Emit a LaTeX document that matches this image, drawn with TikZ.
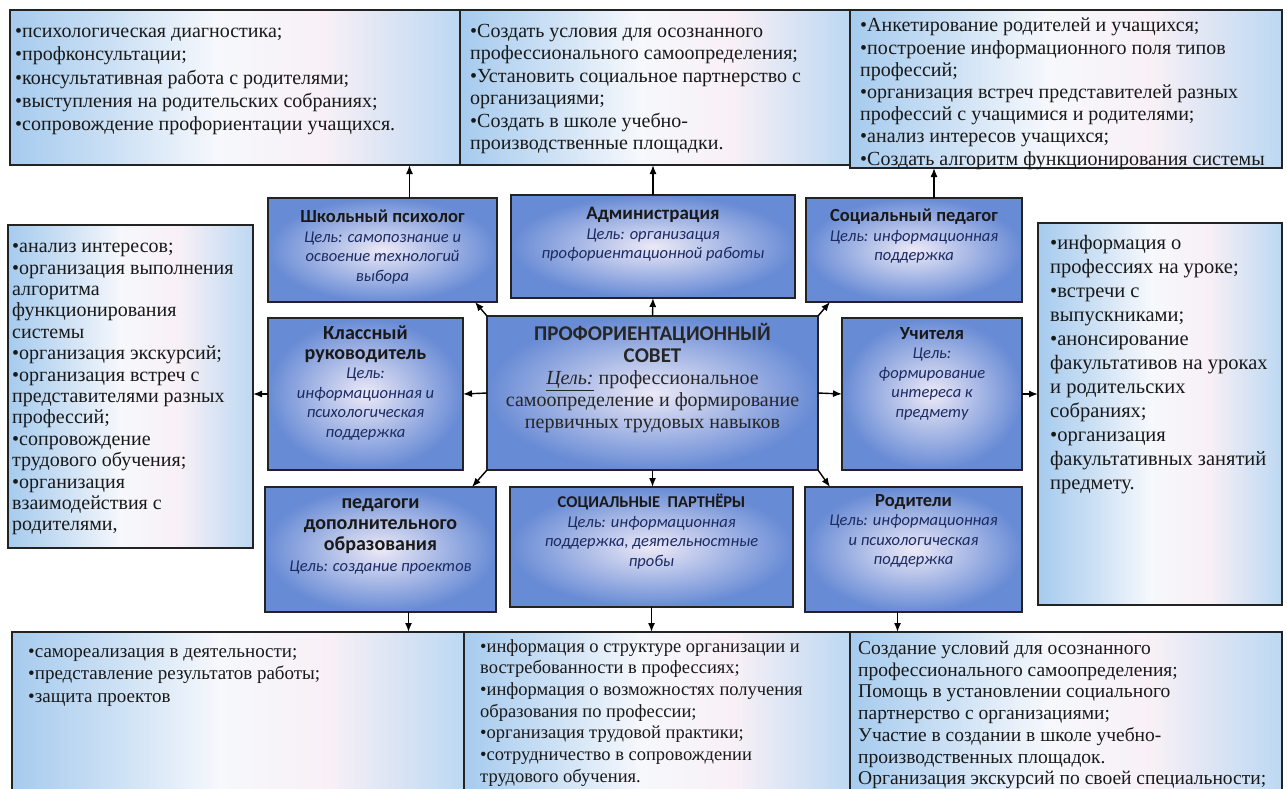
\documentclass[tikz,border=0pt]{standalone}
\usepackage{fontspec}
\setmainfont{Liberation Serif}
\newfontfamily\timesru{Liberation Serif}
\newfontfamily\calibri{Carlito}
\usetikzlibrary{arrows, arrows.meta, positioning}

\definecolor{roleblue}{RGB}{104,139,213}
\definecolor{rolelight}{RGB}{236,233,247}
\definecolor{listblue}{RGB}{166,203,238}
\definecolor{listwhite}{RGB}{246,248,252}
\definecolor{listpink}{RGB}{248,240,246}
\definecolor{goalblue}{RGB}{28,42,98}
\definecolor{edge}{RGB}{35,35,35}

\pgfdeclarehorizontalshading{listshade}{100bp}{color(0bp)=(listblue); color(25bp)=(listblue); color(36bp)=(listblue!55!listwhite); color(48bp)=(listwhite); color(60bp)=(listpink); color(75bp)=(listblue!75!white); color(100bp)=(listblue!75!white)}

\newcommand{\titlef}{\fontsize{18.5}{21}\selectfont\calibri\bfseries\upshape\color{black!90}}

\begin{document}
\begin{tikzpicture}[x=1pt, y=-1pt,
    listbox/.style={rectangle, draw=edge, line width=1.4pt, anchor=north west, inner sep=0pt, outer sep=0pt, shading=listshade},
    listtext/.style={anchor=north west, align=left, inner sep=0pt, text=black!90, font=\fontsize{20}{22.5}\selectfont\timesru},
    rolebox/.style={rectangle, draw=edge, line width=1.4pt, anchor=north west, inner sep=0pt, outer sep=0pt, inner color=rolelight, outer color=roleblue},
    roletext/.style={anchor=north, align=center, inner sep=0pt, text=goalblue, font=\fontsize{16.5}{19.5}\selectfont\calibri\itshape},
    arr/.style={-{Latex[length=9pt,width=7pt]}, line width=1.4pt}
]
\useasboundingbox (0,0) rectangle (1287,789);
\clip (0,0) rectangle (1287,789);
\fill[white] (0,0) rectangle (1287,789);

% Top row: results
\node[listbox, minimum width=450, minimum height=155] (tlbox) at (10,10) {};
\node[listtext, below right=18pt and 5pt of tlbox.north west, font=\fontsize{20}{23.2}\selectfont\timesru] (tltext) {%
•психологическая диагностика;\\
•профконсультации;\\
•консультативная работа с родителями;\\
•выступления на родительских собраниях;\\
•сопровождение профориентации учащихся.};
\node[listbox, minimum width=390, minimum height=155] (tmbox) at (460,10) {};
\node[listtext, below right=14pt and 10pt of tmbox.north west] (tmtext) {%
•Создать условия для осознанного\\
профессионального самоопределения;\\
•Установить социальное партнерство с\\
организациями;\\
•Создать в школе учебно-\\
производственные площадки.};
\node[listbox, minimum width=432, minimum height=158] (trbox) at (850,10) {};
\node[listtext, below right=8pt and 10pt of trbox.north west, font=\fontsize{20}{22.2}\selectfont\timesru] (trtext) {%
•Анкетирование родителей и учащихся;\\
•построение информационного поля типов\\
профессий;\\
•организация встреч представителей разных\\
профессий с учащимися и родителями;\\
•анализ интересов учащихся;\\
•Создать алгоритм функционирования системы};

% Second row: participants
\node[rolebox, minimum width=229, minimum height=104] (psych) at (268,198) {};
\node[roletext, below=12pt of psych.north] (psychtext) {{\titlef Школьный психолог}\\
Цель: самопознание и\\освоение технологий\\выбора};
\node[rolebox, minimum width=284, minimum height=103] (admin) at (511,195) {};
\node[roletext, below=12pt of admin.north] (admintext) {{\titlef\fontsize{19}{22}\selectfont Администрация}\\
Цель: организация\\профориентационной работы};
\node[rolebox, minimum width=216, minimum height=104] (social) at (806,198) {};
\node[roletext, below=11pt of social.north] (socialtext) {{\titlef Социальный педагог}\\
Цель: информационная\\поддержка};

% Side lists
\node[listbox, minimum width=245, minimum height=323] (leftlist) at (8,225) {};
\node[listtext, below right=18pt and 4pt of leftlist.north west, font=\fontsize{20}{21.4}\selectfont\timesru] (lefttext) {%
•анализ интересов;\\
•организация выполнения\\
алгоритма\\
функционирования\\
системы\\
•организация экскурсий;\\
•организация встреч с\\
представителями разных\\
профессий;\\
•сопровождение\\
трудового обучения;\\
•организация\\
взаимодействия с\\
родителями,};
\node[listbox, minimum width=244, minimum height=382] (rightlist) at (1038,223) {};
\node[listtext, below right=12pt and 12pt of rightlist.north west, font=\fontsize{20.5}{24}\selectfont\timesru] (righttext) {%
•информация о\\
профессиях на уроке;\\
•встречи с\\
выпускниками;\\
•анонсирование\\
факультативов на уроках\\
и родительских\\
собраниях;\\
•организация\\
факультативных занятий\\
предмету.};

% Middle row
\node[rolebox, minimum width=195, minimum height=152] (klass) at (268,318) {};
\node[roletext, below=8pt of klass.north] (klasstext) {{\titlef\fontsize{20}{22}\selectfont Классный}\\
{\titlef\fontsize{20}{22}\selectfont руководитель}\\Цель:\\информационная и\\психологическая\\поддержка};
\node[rolebox, minimum width=331, minimum height=154] (central) at (487,316) {};
\node[roletext, below=7pt of central.north, text=black!85, font=\fontsize{20}{22}\selectfont\timesru] (centraltext) {%
{\fontsize{21}{23}\selectfont\calibri\bfseries ПРОФОРИЕНТАЦИОННЫЙ}\\
{\fontsize{21}{23}\selectfont\calibri\bfseries СОВЕТ}\\
\underline{\textit{Цель:}} профессиональное\\
самоопределение и формирование\\
первичных трудовых навыков};
\node[rolebox, minimum width=180, minimum height=152] (uchit) at (842,318) {};
\node[roletext, below=9pt of uchit.north] (uchittext) {{\titlef Учителя}\\
Цель:\\формирование\\интереса к\\предмету};

% Third row
\node[rolebox, minimum width=231, minimum height=125] (pedag) at (265,487) {};
\node[roletext, below=11pt of pedag.north, font=\fontsize{16.5}{21}\selectfont\calibri\itshape] (pedagtext) {{\titlef\fontsize{20}{22}\selectfont педагоги}\\
{\titlef\fontsize{20}{22}\selectfont дополнительного}\\
{\titlef\fontsize{20}{22}\selectfont образования}\\Цель: создание проектов};
\node[rolebox, minimum width=283, minimum height=120] (partners) at (510,487) {};
\node[roletext, below=7pt of partners.north] (partnerstext) {{\titlef\fontsize{16.5}{20}\selectfont СОЦИАЛЬНЫЕ\ \ ПАРТНЁРЫ}\\
Цель: информационная\\поддержка, деятельностные\\пробы};
\node[rolebox, minimum width=217, minimum height=125] (parents) at (805,487) {};
\node[roletext, below=7pt of parents.north] (parentstext) {{\titlef Родители}\\
Цель: информационная\\и психологическая\\поддержка};

% Bottom row: results
\node[listbox, minimum width=452, minimum height=175] (blbox) at (12,632) {};
\node[listtext, below right=16pt and 16pt of blbox.north west, font=\fontsize{19}{22.8}\selectfont\timesru] (bltext) {%
•самореализация в деятельности;\\
•представление результатов работы;\\
•защита проектов};
\node[listbox, minimum width=386, minimum height=175] (bmbox) at (464,632) {};
\node[listtext, below right=7pt and 16pt of bmbox.north west, font=\fontsize{18.5}{21.7}\selectfont\timesru] (bmtext) {%
•информация о структуре организации и\\
востребованности в профессиях;\\
•информация о возможностях получения\\
образования по профессии;\\
•организация трудовой практики;\\
•сотрудничество в сопровождении\\
трудового обучения.};
\node[listbox, minimum width=432, minimum height=175] (brbox) at (850,632) {};
\node[listtext, below right=9pt and 8pt of brbox.north west, font=\fontsize{19.5}{21.7}\selectfont\timesru] (brtext) {%
Создание условий для осознанного\\
профессионального самоопределения;\\
Помощь в установлении социального\\
партнерство с организациями;\\
Участие в создании в школе учебно-\\
производственных площадок.\\
Организация экскурсий по своей специальности;};

% Connectors
\coordinate (psychout) at ([xshift=27pt]psych.north);
\coordinate (socialout) at ([xshift=20pt]social.north);
\coordinate (pedagout) at ([xshift=28pt]pedag.south);
\coordinate (parentsout) at ([xshift=-16pt]parents.south);
\draw[arr] (psychout) -- (psychout |- tlbox.south);
\draw[arr] (admin.north) -- (admin.north |- tmbox.south);
\draw[arr] (socialout) -- (socialout |- trbox.south);
\draw[arr] (pedagout) -- (pedagout |- blbox.north);
\draw[arr] (partners.south) -- (partners.south |- bmbox.north);
\draw[arr] (parentsout) -- (parentsout |- brbox.north);
\draw[arr] (klass.west) -- (klass.west -| leftlist.east);
\draw[arr] (uchit.east) -- (uchit.east -| rightlist.west);

\coordinate (nwend) at ([xshift=-12pt]central.north west);
\coordinate (neend) at ([xshift=12pt]central.north east);
\coordinate (swend) at ([xshift=-15pt]central.south west);
\coordinate (seend) at ([xshift=12pt]central.south east);
\draw[arr] (central.north west) -- (nwend |- psych.south);
\draw[arr] (central.north) -- (admin.south);
\draw[arr] (central.north east) -- (neend |- social.south);
\draw[arr] (central.west) -- (klass.east);
\draw[arr] (central.east) -- (uchit.west);
\draw[arr] (central.south west) -- (swend |- pedag.north);
\draw[arr] (central.south) -- (central.south |- partners.north);
\draw[arr] (central.south east) -- (seend |- parents.north);
\end{tikzpicture}
\end{document}
